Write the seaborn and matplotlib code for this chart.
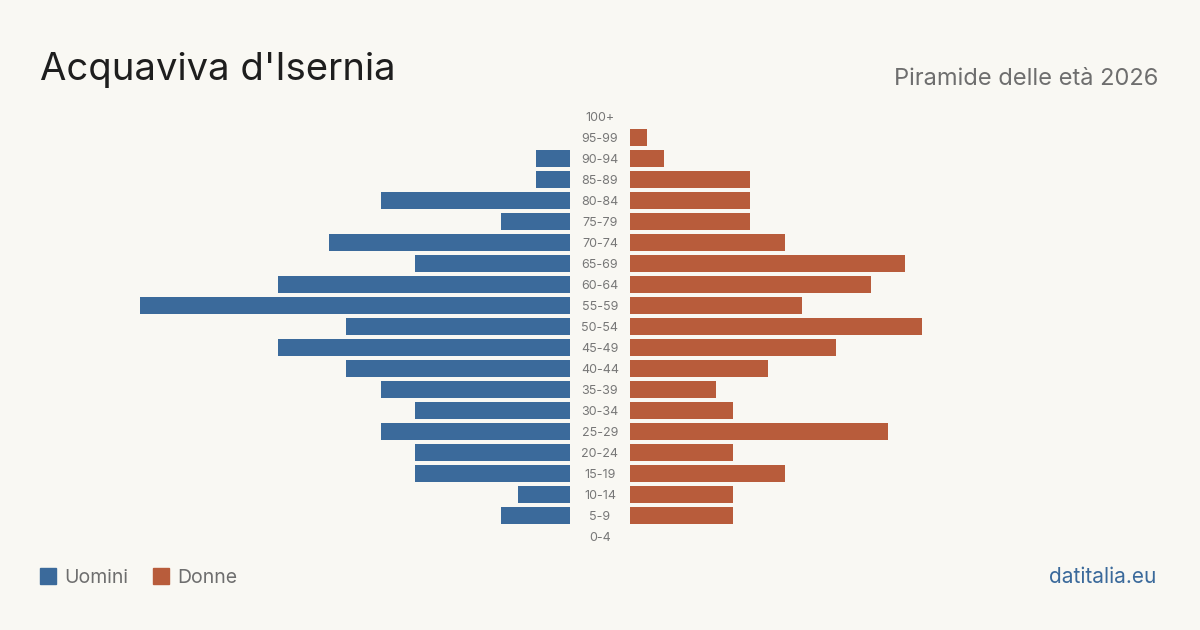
import matplotlib
matplotlib.use("Agg")
import matplotlib.pyplot as plt
import seaborn as sns
import pandas as pd

# ----------- Data ---------------
age_groups = ["100+", "95-99", "90-94", "85-89", "80-84", "75-79", "70-74",
              "65-69", "60-64", "55-59", "50-54", "45-49", "40-44", "35-39",
              "30-34", "25-29", "20-24", "15-19", "10-14", "5-9", "0-4"]
men = [0, 0, 2, 2, 11, 4, 14, 9, 17, 25, 13, 17, 13, 11, 9, 11, 9, 9, 3, 4, 0]
women = [0, 1, 2, 7, 7, 7, 9, 16, 14, 10, 17, 12, 8, 5, 6, 15, 6, 9, 6, 6, 0]

df = pd.DataFrame({"age": age_groups, "Uomini": men, "Donne": women})

# ----------- Style ---------------
bg = "#f9f8f3"
blue = "#3b6a9b"
red = "#b85c3b"
sns.set_style("white")
plt.rcParams["font.family"] = ["Inter", "DejaVu Sans"]

fig = plt.figure(figsize=(12, 6.3), dpi=100, facecolor=bg)

W, H = 1200, 630
xmax = 26
px_unit = 17.2
span = xmax * px_unit
top, bottom = 106, 547

ax_m = fig.add_axes([(570 - span) / W, 1 - bottom / H, span / W, (bottom - top) / H])
ax_f = fig.add_axes([630 / W, 1 - bottom / H, span / W, (bottom - top) / H])

sns.barplot(data=df, y="age", x="Uomini", color=blue, width=0.8,
            saturation=1, ax=ax_m, orient="h", linewidth=0)
sns.barplot(data=df, y="age", x="Donne", color=red, width=0.8,
            saturation=1, ax=ax_f, orient="h", linewidth=0)

for ax in (ax_m, ax_f):
    ax.set_facecolor(bg)
    ax.set_xlim(0, xmax)
    ax.set_ylim(len(age_groups) - 0.5, -0.5)
    ax.set_xticks([])
    ax.set_yticks([])
    ax.set_xlabel("")
    ax.set_ylabel("")
    sns.despine(ax=ax, left=True, bottom=True)
ax_m.invert_xaxis()

# age labels in the middle
for i, label in enumerate(age_groups):
    ax_f.text(-30 / px_unit, i + 0.05, label, ha="center", va="center",
              fontsize=9, color="#777777")

# ----------- Titles ---------------
fig.text(40 / W, 1 - 80 / H, "Acquaviva d'Isernia", fontsize=27.5,
         color="#1e1e1e", ha="left", va="baseline")
fig.text(1158 / W, 1 - 85 / H, "Piramide delle età 2026", fontsize=17,
         color="#6e6e6e", ha="right", va="baseline")

# ----------- Legend ---------------
fig.patches.append(plt.Rectangle((40 / W, 1 - 584 / H), 16 / W, 16 / H,
                                 transform=fig.transFigure, color=blue))
fig.text(64 / W, 1 - 583 / H, "Uomini", fontsize=14, color="#6e6e6e",
         va="baseline")
fig.patches.append(plt.Rectangle((153 / W, 1 - 584 / H), 16 / W, 16 / H,
                                 transform=fig.transFigure, color=red))
fig.text(177 / W, 1 - 583 / H, "Donne", fontsize=14, color="#6e6e6e",
         va="baseline")

fig.text(1156 / W, 1 - 583 / H, "datitalia.eu", fontsize=15, color=blue,
         ha="right", va="baseline")

fig.savefig("out.png", dpi=100, facecolor=bg)
